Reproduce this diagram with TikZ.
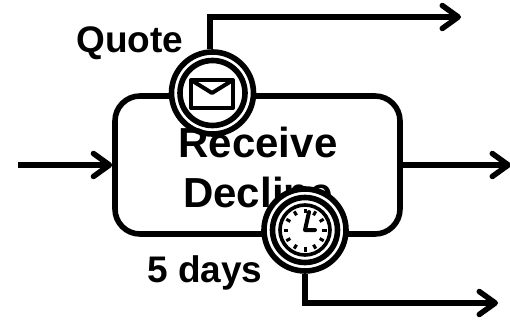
\documentclass[tikz,border=0pt]{standalone}
\usepackage{fontspec}
\setmainfont{Liberation Sans}
\usetikzlibrary{arrows.meta}
\begin{document}
\begin{tikzpicture}[x=1pt,y=-1pt,
  task/.style={draw,line width=5.6pt,rounded corners=25pt,minimum width=285pt,minimum height=138pt,inner sep=0pt},
  flow/.style={line width=5.5pt,-{Straight Barb[round,length=16pt,width=23pt]}},
  evouter/.style={circle,draw,fill=white,line width=5.6pt,minimum size=82pt,inner sep=0pt},
  evinner/.style={circle,draw,line width=5.6pt,minimum size=65pt,inner sep=0pt},
  facering/.style={circle,draw,line width=3.6pt,minimum size=50pt,inner sep=0pt},
  mainlabel/.style={font=\bfseries\fontsize{42}{50}\selectfont,align=center,inner sep=0pt},
  sidelabel/.style={font=\bfseries\fontsize{37}{44}\selectfont,inner sep=0pt}]
\useasboundingbox (0,0) rectangle (510,320);
\node[task] (box) at (257.5,165) {};
\coordinate (inS) at (18,165);
\coordinate (outE) at (511,165);
\coordinate (topE) at (461,17);
\coordinate (botE) at (498,303);
\coordinate (topC) at (210,17);
\coordinate (botC) at (305,303);
\draw[flow] (inS) -- (box.west);
\draw[flow] (box.east) -- (outE);
\node[evouter] (msg) at (212.5,93) {};
\draw[flow] (msg.north -| topC) -- (topC) -- (topE);
\node[evinner] at (msg) {};
\draw[line width=4pt,line join=round] (191,80) rectangle (233,108);
\draw[line width=4pt,line join=round] (191,80) -- (212,93) -- (233,80);
\node[mainlabel] (name) at (258,167) {Receive\\Decline};
\node[evouter] (timer) at (305,230) {};
\draw[flow] (timer.south) -- (botC) -- (botE);
\node[evinner] at (timer) {};
\node[facering] at (timer) {};
\foreach \a in {0,30,...,330}
  \draw[line width=3pt] (timer) ++(\a:17pt) -- ++(\a:4.5pt);
\draw[line width=4pt,line cap=round,line join=round] (309,212) -- (305,230) -- (315,230);
\node[sidelabel,anchor=base] (q) at (130,53) {Quote};
\node[sidelabel,anchor=base] (d) at (205,282) {5 days};
\end{tikzpicture}
\end{document}
